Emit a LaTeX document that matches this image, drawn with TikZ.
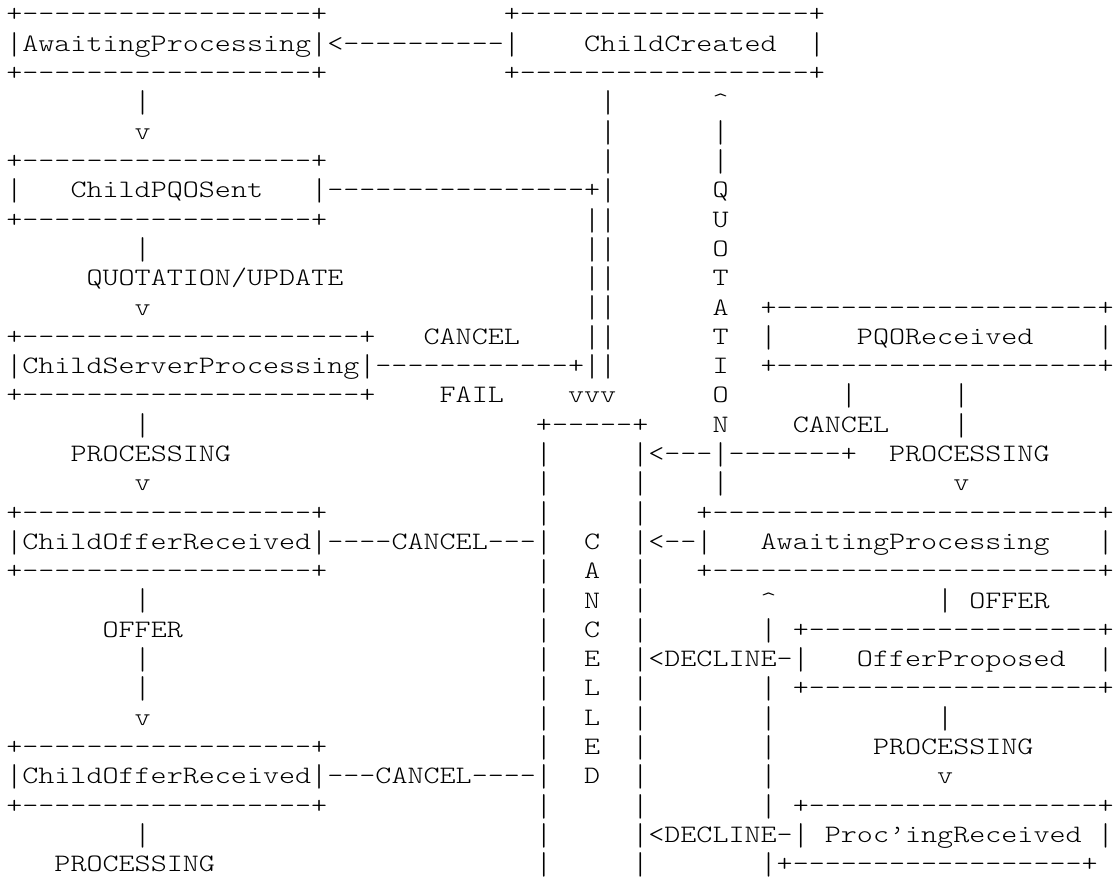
\documentclass[tikz,border=0pt]{standalone}
\usepackage{graphicx}
\newcommand\ascfont{\fontsize{18.8pt}{18.8pt}\selectfont\ttfamily\fontseries{l}\selectfont}
\newlength\mychw
\newlength\bh
\newlength\bd
\settowidth\mychw{\ascfont M}
\settoheight\bh{\ascfont|}
\settodepth\bd{\ascfont|}
\pgfmathsetmacro\xs{12.0375/\mychw}
\pgfmathsetmacro\bsc{18.5/(\bh+\bd)}
\pgfmathsetmacro\brs{5-(\bh-\bd)*\bsc/2}
\newcommand\vb{\raisebox{\brs pt}{\scalebox{1}[\bsc]{|}}}
\newcommand\dsh[1]{\foreach \i in {1,...,#1}{-\kern0pt}}
\newcommand\cwid{16.05}
\newcommand\lsp{29.3}
\newcommand\bzero{22}
\newcommand\lmar{6.3}
\tikzset{asc/.style={anchor=base west, inner sep=0pt, outer sep=0pt, font=\ascfont}}
\newcommand\A[3]{\node[asc] (r#1c#2) at ({\lmar+#2*\cwid},{-(\bzero+(#1-1)*\lsp)}) {\scalebox{\xs}[1]{#3}};}
\begin{document}
\begin{tikzpicture}[x=0.75pt,y=0.75pt]
\useasboundingbox (0,0) rectangle (1116,-881);
% rows 1-3
\A{1}{0}{+\dsh{18}+}\A{1}{31}{+\dsh{18}+}
\A{2}{0}{\vb AwaitingProcessing\vb<\dsh{10}\vb}\A{2}{36}{ChildCreated}\A{2}{50}{\vb}
\A{3}{0}{+\dsh{18}+}\A{3}{31}{+\dsh{18}+}
% rows 4-11
\A{4}{8}{\vb}\A{4}{37}{\vb}\A{4}{44}{\textasciicircum}
\A{5}{8}{v}\A{5}{37}{\vb}\A{5}{44}{\vb}
\A{6}{0}{+\dsh{18}+}\A{6}{37}{\vb}\A{6}{44}{\vb}
\A{7}{0}{\vb}\A{7}{4}{ChildPQOSent}\A{7}{19}{\vb\dsh{16}+\vb}\A{7}{44}{Q}
\A{8}{0}{+\dsh{18}+}\A{8}{36}{\vb\vb}\A{8}{44}{U}
\A{9}{8}{\vb}\A{9}{36}{\vb\vb}\A{9}{44}{O}
\A{10}{5}{QUOTATION/UPDATE}\A{10}{36}{\vb\vb}\A{10}{44}{T}
\A{11}{8}{v}\A{11}{36}{\vb\vb}\A{11}{44}{A}\A{11}{47}{+\dsh{20}+}
% rows 12-17
\A{12}{0}{+\dsh{21}+}\A{12}{26}{CANCEL}\A{12}{36}{\vb\vb}\A{12}{44}{T}\A{12}{47}{\vb}\A{12}{53}{PQOReceived}\A{12}{68}{\vb}
\A{13}{0}{\vb ChildServerProcessing\vb\dsh{12}+\vb\vb}\A{13}{44}{I}\A{13}{47}{+\dsh{20}+}
\A{14}{0}{+\dsh{21}+}\A{14}{27}{FAIL}\A{14}{35}{vvv}\A{14}{44}{O}\A{14}{52}{\vb}\A{14}{59}{\vb}
\A{15}{8}{\vb}\A{15}{33}{+\dsh{5}+}\A{15}{44}{N}\A{15}{49}{CANCEL}\A{15}{59}{\vb}
\A{16}{4}{PROCESSING}\A{16}{33}{\vb}\A{16}{39}{\vb<\dsh{3}\vb\dsh{7}+}\A{16}{55}{PROCESSING}
\A{17}{8}{v}\A{17}{33}{\vb}\A{17}{39}{\vb}\A{17}{44}{\vb}\A{17}{59}{v}
% rows 18-24
\A{18}{0}{+\dsh{18}+}\A{18}{33}{\vb}\A{18}{39}{\vb}\A{18}{43}{+\dsh{24}+}
\A{19}{0}{\vb ChildOfferReceived\vb\dsh{4}CANCEL\dsh{3}\vb}\A{19}{36}{C}\A{19}{39}{\vb<\dsh{2}\vb}\A{19}{47}{AwaitingProcessing}\A{19}{68}{\vb}
\A{20}{0}{+\dsh{18}+}\A{20}{33}{\vb}\A{20}{36}{A}\A{20}{39}{\vb}\A{20}{43}{+\dsh{24}+}
\A{21}{8}{\vb}\A{21}{33}{\vb}\A{21}{36}{N}\A{21}{39}{\vb}\A{21}{47}{\textasciicircum}\A{21}{58}{\vb}\A{21}{60}{OFFER}
\A{22}{6}{OFFER}\A{22}{33}{\vb}\A{22}{36}{C}\A{22}{39}{\vb}\A{22}{47}{\vb}\A{22}{49}{+\dsh{18}+}
\A{23}{8}{\vb}\A{23}{33}{\vb}\A{23}{36}{E}\A{23}{39}{\vb<DECLINE-\vb}\A{23}{53}{OfferProposed}\A{23}{68}{\vb}
\A{24}{8}{\vb}\A{24}{33}{\vb}\A{24}{36}{L}\A{24}{39}{\vb}\A{24}{47}{\vb}\A{24}{49}{+\dsh{18}+}
% rows 25-30
\A{25}{8}{v}\A{25}{33}{\vb}\A{25}{36}{L}\A{25}{39}{\vb}\A{25}{47}{\vb}\A{25}{58}{\vb}
\A{26}{0}{+\dsh{18}+}\A{26}{33}{\vb}\A{26}{36}{E}\A{26}{39}{\vb}\A{26}{47}{\vb}\A{26}{54}{PROCESSING}
\A{27}{0}{\vb ChildOfferReceived\vb\dsh{3}CANCEL\dsh{4}\vb}\A{27}{36}{D}\A{27}{39}{\vb}\A{27}{47}{\vb}\A{27}{58}{v}
\A{28}{0}{+\dsh{18}+}\A{28}{33}{\vb}\A{28}{39}{\vb}\A{28}{47}{\vb}\A{28}{49}{+\dsh{18}+}
\A{29}{8}{\vb}\A{29}{33}{\vb}\A{29}{39}{\vb<DECLINE-\vb}\A{29}{51}{Proc’ingReceived}\A{29}{68}{\vb}
\A{30}{3}{PROCESSING}\A{30}{33}{\vb}\A{30}{39}{\vb}\A{30}{47}{\vb+\dsh{18}+}
\end{tikzpicture}
\end{document}
